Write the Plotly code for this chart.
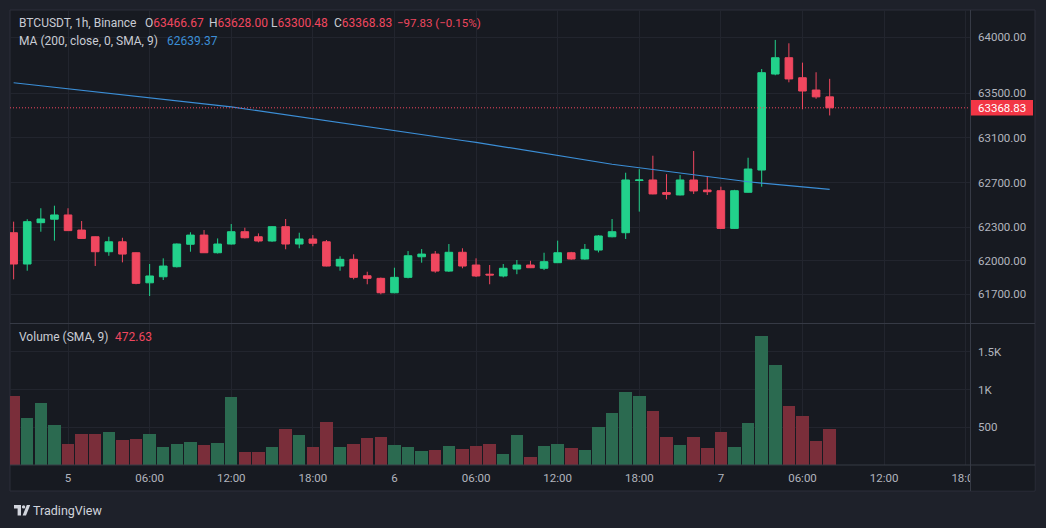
import plotly.graph_objects as go
import pandas as pd

# ---------------- data ----------------
times = pd.date_range("2024-05-04 20:00", periods=61, freq="h")

open_ = [62251, 61971, 62341, 62372, 62410, 62275, 62215, 62081, 62170, 62072,
         61803, 61857, 61947, 62148, 62230, 62072, 62150, 62260, 62215, 62177,
         62305, 62150, 62195, 62170, 61953, 62013, 61866, 61843, 61714, 61852,
         62036, 62060, 61908, 62076, 61962, 61880, 61864, 61926, 61962, 61933,
         61983, 62072, 62016, 62096, 62215, 62251, 62718, 62723, 62610, 62589,
         62723, 62633, 62627, 62290, 62613, 62812, 63671, 63817, 63638, 63528,
         63466.67]
high = [62350, 62372, 62470, 62493, 62470, 62356, 62218, 62215, 62206, 62075,
        61971, 62022, 62155, 62255, 62275, 62200, 62329, 62296, 62245, 62310,
        62374, 62251, 62230, 62186, 62040, 62058, 61902, 61850, 61938, 62087,
        62105, 62087, 62150, 62112, 62022, 61962, 61971, 62007, 62000, 62072,
        62180, 62080, 62150, 62230, 62374, 62788, 62820, 62940, 62775, 62768,
        62982, 62759, 62663, 62635, 62922, 63716, 63976, 63946, 63773, 63687,
        63628.00]
low = [61834, 61911, 62260, 62180, 62268, 62195, 61953, 62045, 61986, 61790,
       61685, 61828, 61940, 62081, 62070, 62065, 62145, 62200, 62165, 62170,
       62103, 62112, 62130, 61950, 61911, 61834, 61790, 61700, 61710, 61843,
       61983, 61893, 61900, 61933, 61855, 61790, 61852, 61880, 61935, 61917,
       61980, 62010, 62010, 62075, 62210, 62195, 62440, 62595, 62550, 62585,
       62598, 62589, 62285, 62285, 62610, 62663, 63660, 63597, 63356, 63450,
       63300.48]
close = [61971, 62350, 62374, 62410, 62270, 62200, 62081, 62170, 62060, 61798,
         61864, 61953, 62150, 62230, 62072, 62150, 62260, 62206, 62177, 62305,
         62150, 62195, 62157, 61953, 62013, 61852, 61843, 61714, 61852, 62045,
         62060, 61908, 62076, 61953, 61864, 61873, 61933, 61962, 61938, 61992,
         62072, 62016, 62102, 62222, 62260, 62723, 62723, 62598, 62595, 62723,
         62625, 62618, 62290, 62627, 62821, 63683, 63817, 63627, 63519, 63466.66,
         63368.83]
volume = [917, 624, 824, 527, 273, 411, 411, 433, 331, 349,
          411, 237, 273, 304, 264, 291, 904, 171, 171, 237,
          477, 393, 237, 571, 237, 273, 358, 371, 260, 237,
          184, 202, 247, 216, 247, 273, 149, 393, 104, 247,
          282, 224, 202, 504, 691, 971, 917, 717, 371, 260,
          371, 224, 433, 237, 557, 1704, 1326, 780, 647, 317,
          472.63]
ma200 = [63593, 63580, 63566, 63553, 63539, 63526, 63512, 63499, 63485, 63472,
         63458, 63445, 63431, 63418, 63404, 63391, 63377, 63359, 63342, 63324,
         63306, 63288, 63271, 63253, 63235, 63218, 63200, 63182, 63165, 63147,
         63129, 63111, 63094, 63076, 63060, 63040, 63020, 63000, 62980, 62960,
         62940, 62920, 62900, 62880, 62864, 62848, 62832, 62815, 62799, 62783,
         62768, 62753, 62738, 62722, 62707, 62695, 62683, 62672, 62661, 62650,
         62639.37]

price_ticks = [61700, 62000, 62300, 62700, 63100, 63500, 64000]
price_tick_labels = ["61700.00", "62000.00", "62300.00", "62700.00", "63100.00", "63500.00", "64000.00"]
vol_ticks = [500, 1000, 1500]
vol_tick_labels = ["500", "1K", "1.5K"]
time_ticks = ["2024-05-05 00:00", "2024-05-05 06:00", "2024-05-05 12:00", "2024-05-05 18:00",
              "2024-05-06 00:00", "2024-05-06 06:00", "2024-05-06 12:00", "2024-05-06 18:00",
              "2024-05-07 00:00", "2024-05-07 06:00", "2024-05-07 12:00", "2024-05-07 18:00"]
time_tick_labels = ["5", "06:00", "12:00", "18:00", "6", "06:00", "12:00", "18:00",
                    "7", "06:00", "12:00", "18:00"]
last_price = 63368.83

# ---------------- style ----------------
UP = "#22d18b"
DOWN = "#f0475f"
UP_VOL = "#2b6a50"
DOWN_VOL = "#7a2e3a"
BG = "#171a21"
OUTER = "#1e212a"
GRID = "#22252e"
SEP = "#363a45"
TXT = "#b2b5be"
FONT = "Roboto, Noto Sans, sans-serif"

W, H = 1046, 528
L, R, T, B = 10, 970, 10, 465   # plot area in pixels


def px(x):
    return (x - L) / (R - L)


def py(y):
    return (B - y) / (B - T)


vol_colors = [UP_VOL if c > o else DOWN_VOL for o, c in zip(open_, close)]

fig = go.Figure()

fig.add_trace(go.Bar(
    x=times, y=volume, marker=dict(color=vol_colors, line=dict(width=0)),
    width=3.3e6, xaxis="x", yaxis="y", hoverinfo="skip", showlegend=False))

fig.add_trace(go.Candlestick(
    x=times, open=open_, high=high, low=low, close=close,
    increasing=dict(line=dict(color=UP, width=1), fillcolor=UP),
    decreasing=dict(line=dict(color=DOWN, width=1), fillcolor=DOWN),
    xaxis="x2", yaxis="y2", showlegend=False, hoverinfo="skip"))

fig.add_trace(go.Scatter(
    x=times, y=ma200, mode="lines", line=dict(color="#3b8ed6", width=1.2),
    xaxis="x2", yaxis="y2", showlegend=False, hoverinfo="skip"))

x_range = ["2024-05-04 19:44", "2024-05-07 18:19"]

fig.update_layout(
    width=W, height=H,
    margin=dict(l=L, r=W - R, t=T, b=H - B, pad=0),
    paper_bgcolor=OUTER, plot_bgcolor=BG,
    font=dict(family=FONT, color=TXT, size=11.5),
    boxgap=0.2, bargap=0,
    showlegend=False,
    xaxis=dict(domain=[0, 1], anchor="y", range=x_range, type="date",
               tickmode="array", tickvals=time_ticks, ticktext=time_tick_labels,
               showgrid=True, gridcolor=GRID, gridwidth=1, zeroline=False,
               showline=False, ticks="", ticklabelstandoff=4,
               tickfont=dict(size=11.5, color=TXT),
               rangeslider=dict(visible=False), fixedrange=True),
    xaxis2=dict(domain=[0, 1], anchor="y2", matches="x", type="date",
                tickmode="array", tickvals=time_ticks, showticklabels=False,
                showgrid=True, gridcolor=GRID, gridwidth=1, zeroline=False,
                showline=False, ticks="", rangeslider=dict(visible=False)),
    yaxis=dict(domain=[0, py(324)], anchor="x", side="right", range=[0, 1869],
               tickmode="array", tickvals=vol_ticks, ticktext=vol_tick_labels,
               showgrid=True, gridcolor=GRID, zeroline=False, showline=False,
               ticks="", ticklabelstandoff=7, tickfont=dict(size=11.5, color=TXT)),
    yaxis2=dict(domain=[py(322.7), 1], anchor="x2", side="right", range=[61446, 64244],
                tickmode="array", tickvals=price_ticks, ticktext=price_tick_labels,
                showgrid=True, gridcolor=GRID, zeroline=False, showline=False,
                ticks="", ticklabelstandoff=7, tickfont=dict(size=11.5, color=TXT)),
)

shapes = []
# chart frame background + border
shapes.append(dict(type="rect", xref="paper", yref="paper", layer="below",
                   x0=px(10), x1=px(1035), y0=py(491), y1=py(10),
                   fillcolor=BG, line=dict(color="#2c2f3a", width=1)))
# last price dotted line
shapes.append(dict(type="line", xref="paper", yref="y2", x0=0, x1=1,
                   y0=last_price, y1=last_price, layer="above",
                   line=dict(color=DOWN, width=1, dash="1px,2px")))
# cover for clipped last time label
shapes.append(dict(type="rect", xref="paper", yref="paper", layer="above",
                   x0=px(970.5), x1=px(1034.5), y0=py(490.5), y1=py(465.5),
                   fillcolor=BG, line=dict(width=0)))
# separators
shapes.append(dict(type="line", xref="paper", yref="paper", layer="above",
                   x0=px(10), x1=px(1035), y0=py(323.5), y1=py(323.5),
                   line=dict(color=SEP, width=1)))
shapes.append(dict(type="line", xref="paper", yref="paper", layer="above",
                   x0=px(10), x1=px(1035), y0=py(465), y1=py(465),
                   line=dict(color=SEP, width=1)))
shapes.append(dict(type="line", xref="paper", yref="paper", layer="above",
                   x0=px(970.5), x1=px(970.5), y0=py(491), y1=py(10),
                   line=dict(color=SEP, width=1)))
# last price label box
shapes.append(dict(type="rect", xref="paper", yref="paper", layer="above",
                   x0=px(971), x1=px(1033), y0=py(115.5), y1=py(100),
                   fillcolor="#f23645", line=dict(width=0)))


# TradingView logo icon
def pth(points):
    s = "M" + " L".join(f"{px(a):.5f},{py(b):.5f}" for a, b in points) + " Z"
    return s


shapes.append(dict(type="path", xref="paper", yref="paper", layer="above",
                   path=pth([(14, 505), (21, 505), (21, 515.5), (17.6, 515.5), (17.6, 508.4), (14, 508.4)]),
                   fillcolor="#d1d4dc", line=dict(width=0)))
shapes.append(dict(type="circle", xref="paper", yref="paper", layer="above",
                   x0=px(21.9), x1=px(25.3), y0=py(508.6), y1=py(505.2),
                   fillcolor="#d1d4dc", line=dict(width=0)))
shapes.append(dict(type="path", xref="paper", yref="paper", layer="above",
                   path=pth([(22.6, 515.5), (26.8, 505), (30.2, 505), (26.0, 515.5)]),
                   fillcolor="#d1d4dc", line=dict(width=0)))

fig.update_layout(shapes=shapes)

ann = []


def text(xp, yp, s, color, size=12, xanchor="left"):
    ann.append(dict(xref="paper", yref="paper", x=px(xp), y=py(yp), text=s,
                    showarrow=False, xanchor=xanchor, yanchor="middle",
                    font=dict(family=FONT, size=size, color=color)))


LEG = "#c9ccd4"
text(17, 23, "BTCUSDT, 1h, Binance", LEG)
text(143, 23, f"<span style='color:{LEG}'>O</span>63466.67", DOWN)
text(207, 23, f"<span style='color:{LEG}'>H</span>63628.00", DOWN)
text(269, 23, f"<span style='color:{LEG}'>L</span>63300.48", DOWN)
text(331.5, 23, f"<span style='color:{LEG}'>C</span>63368.83", DOWN)
text(395, 23, "−97.83 (−0.15%)", DOWN, size=11.5)
text(17, 41, "MA (200, close, 0, SMA, 9)", LEG)
text(165, 41, "62639.37", "#3b8ed6")
text(17, 337, "Volume (SMA, 9)", LEG)
text(113, 337, "472.63", DOWN)
# last price label text
text(1002, 108, "63368.83", "#ffffff", size=11.5, xanchor="center")
# brand
text(31, 510, "TradingView", "#d1d4dc", size=12.5)

fig.update_layout(annotations=ann)

fig.write_html("out.html")
